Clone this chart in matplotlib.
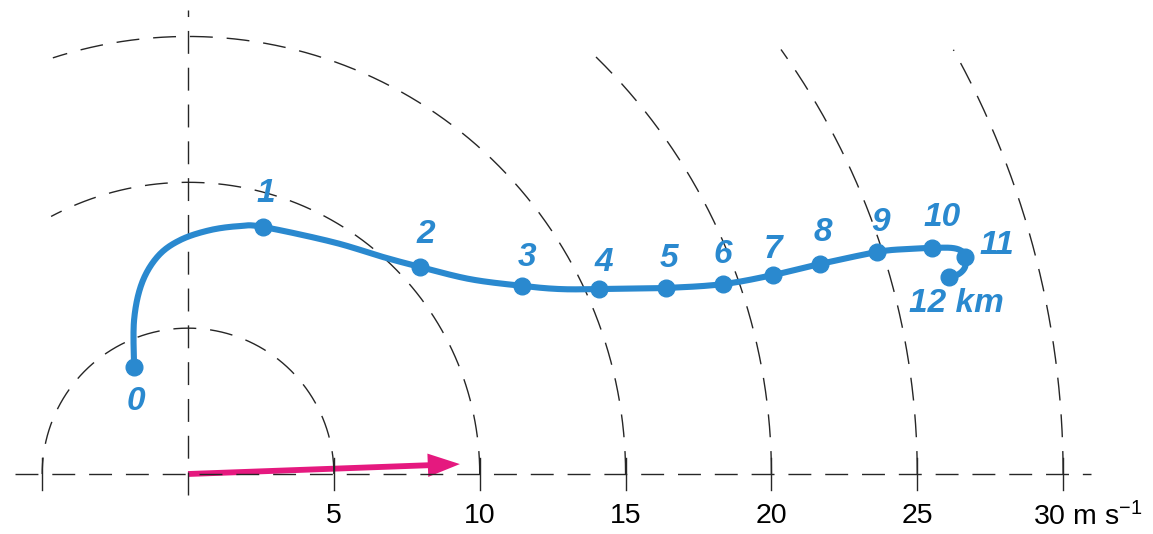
import numpy as np
import matplotlib.pyplot as plt

# hodograph: wind vectors (m/s) at each height, 0-12 km
heights = ["0", "1", "2", "3", "4", "5", "6", "7", "8", "9", "10", "11", "12 km"]
u_obs = [-1.85, 2.57, 7.95, 11.45, 14.09, 16.39, 18.34, 20.05, 21.67, 23.62, 25.51, 26.64, 26.09]
v_obs = [3.67, 8.47, 7.10, 6.45, 6.34, 6.38, 6.51, 6.82, 7.20, 7.61, 7.75, 7.44, 6.75]

# traced course of the hodograph curve between the levels
u_path = [-1.85, -1.85, -1.58, -1.03, -0.27, 0.75, 1.78, 2.57, 4.97, 6.68,
          7.95, 9.67, 11.45, 12.75, 14.09, 16.39, 18.34, 20.05, 21.67, 23.62, 24.58,
          25.51, 26.19, 26.53, 26.64, 26.64, 26.43, 26.09]
v_path = [3.67, 5.28, 6.55, 7.47, 8.02, 8.36, 8.50, 8.47, 7.95, 7.44,
          7.10, 6.68, 6.45, 6.34, 6.34, 6.38, 6.51, 6.82, 7.20, 7.61, 7.71,
          7.75, 7.75, 7.64, 7.44, 7.10, 6.86, 6.75]

# storm motion vector
storm_u, storm_v = 9.32, 0.34

rings = [5, 10, 15, 20, 25, 30]
ring_labels = ["5", "10", "15", "20", "25", "30 m s$^{-1}$"]

BLUE = "#2a89cf"
PINK = "#e5197f"
DASH = (0, (16.5, 10))

plt.rcParams["font.family"] = ["Liberation Sans", "DejaVu Sans"]
plt.rcParams["mathtext.fontset"] = "custom"
plt.rcParams["mathtext.rm"] = "Liberation Sans"
plt.rcParams["mathtext.default"] = "regular"


def catmull_rom(x, y, n=20):
    # smooth curve through the traced points
    p = np.column_stack([x, y])
    p = np.vstack([p[0], p, p[-1]])
    out = []
    t = np.linspace(0, 1, n, endpoint=False)[:, None]
    for i in range(1, len(p) - 2):
        p0, p1, p2, p3 = p[i - 1], p[i], p[i + 1], p[i + 2]
        seg = 0.5 * ((2 * p1) + (-p0 + p2) * t + (2 * p0 - 5 * p1 + 4 * p2 - p3) * t ** 2
                     + (-p0 + 3 * p1 - 3 * p2 + p3) * t ** 3)
        out.append(seg)
    out.append(p[-2][None, :])
    out = np.vstack(out)
    return out[:, 0], out[:, 1]


fig = plt.figure(figsize=(11.53, 5.34), dpi=100)
ax = fig.add_axes([0, 0, 1, 1])
ax.set_xlim(-6.445, 33.08)
ax.set_ylim(-2.057, 16.25)
ax.set_aspect("equal")
ax.axis("off")

# axes through the origin
ax.plot([-5.93, 30.95], [0, 0], color="0.15", lw=1.0, ls=DASH)
ax.plot([0, 0], [-0.72, 15.9], color="0.15", lw=1.0, ls=DASH)

# speed rings, each drawn from the u axis up to where it leaves the frame
arc_end = {5: 180, 10: 118, 15: 108, 20: 46.6, 25: 35.6, 30: 29.0}
for r in rings:
    th = np.radians(np.linspace(0, arc_end[r], 400))
    ax.plot(r * np.cos(th), r * np.sin(th), color="0.15", lw=1.0, ls=DASH)

# tick marks where the rings cross the u axis
for x in [-5] + rings:
    ax.plot([x, x], [-0.55, 0.55], color="0.15", lw=1.0)

for r, lab in zip(rings, ring_labels):
    if r == 30:
        ax.text(28.97, -1.45, lab, fontsize=20.5, ha="left", va="center")
    else:
        ax.text(r, -1.45, lab, fontsize=20.5, ha="center", va="center")

# storm motion arrow
ax.arrow(0, 0, storm_u, storm_v, width=0.2, head_width=0.8, head_length=1.1,
         length_includes_head=True, color=PINK, lw=0)

# hodograph
cu, cv = catmull_rom(u_path, v_path)
ax.plot(cu, cv, color=BLUE, lw=4.4, solid_capstyle="round", solid_joinstyle="round")
ax.plot(u_obs, v_obs, "o", color=BLUE, ms=12)

# label offsets in pixels
label_dx = [2, 3, 6, 5, 5, 3, 0, 0, 3, 4, 10, 32, 7]
label_dy = [-35, 33, 32, 28, 27, 29, 30, 26, 31, 30, 30, 11, -26]
for lab, x, y, dx, dy in zip(heights, u_obs, v_obs, label_dx, label_dy):
    ax.annotate(lab, (x, y), xytext=(dx, dy), textcoords="offset pixels",
                ha="center", va="center", color=BLUE, fontsize=24,
                fontweight="bold", fontstyle="italic")

fig.savefig("out.png", dpi=100)
